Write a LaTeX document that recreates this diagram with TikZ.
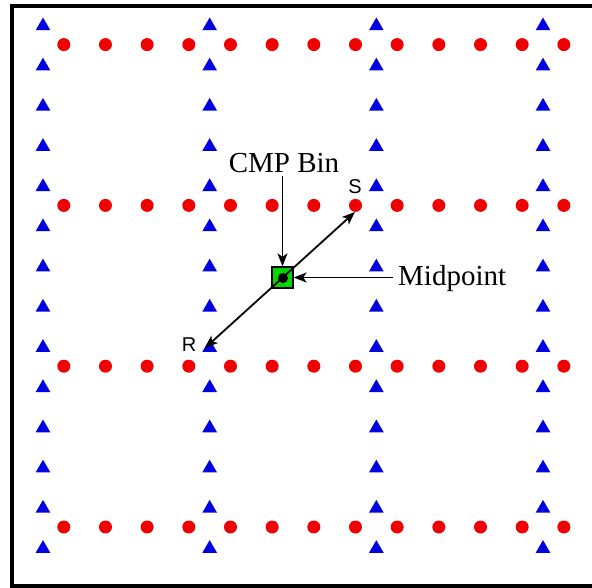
\documentclass[tikz,border=0pt]{standalone}
\usepackage{fontspec}
\setmainfont{Liberation Serif}
\newfontfamily\lsans{Liberation Sans}
\usetikzlibrary{shapes.geometric,arrows.meta}
\definecolor{srcblue}{RGB}{0,0,225}
\definecolor{recred}{RGB}{240,0,0}
\definecolor{bingreen}{RGB}{0,215,0}
\tikzset{
  srcmark/.style={regular polygon,regular polygon sides=3,minimum size=17pt,inner sep=0pt,fill=srcblue},
  recmark/.style={circle,minimum size=13pt,inner sep=0pt,fill=recred},
  binbox/.style={draw=black,line width=1.3pt,fill=bingreen,minimum size=21pt,inner sep=0pt},
  arr/.style={line width=1.8pt,-{Stealth[length=13pt,width=10pt,inset=3.5pt]}},
  darr/.style={line width=1.8pt,{Stealth[length=13pt,width=10pt,inset=3.5pt]}-{Stealth[length=13pt,width=10pt,inset=3.5pt]}},
  lbl/.style={font=\fontsize{29}{31}\selectfont,inner sep=0pt},
  sl/.style={font=\lsans\fontsize{20}{22}\selectfont,inner sep=0pt}
}
\begin{document}
\begin{tikzpicture}[x=1pt,y=-1pt]
\useasboundingbox (0,0) rectangle (592,588);
\fill[white] (0,0) rectangle (592,588);
\draw[line width=3.2pt] (620,6) -- (12,6) -- (12,586) -- (620,586);
% sources (triangles)
\foreach \c in {0,...,3}{
  \foreach \k in {0,...,13}{
    \node[srcmark] (s-\c-\k) at ({43+166.67*\c},{26+40.2*\k}) {};
  }
}
% receivers (dots)
\foreach \r in {0,...,3}{
  \foreach \k in {0,...,12}{
    \node[recmark] (d-\r-\k) at ({63.8+41.67*\k},{44.6+160.8*\r}) {};
  }
}
% CMP bin
\node[binbox] (bin) at (282.5,277.5) {};
\node[circle,fill=black,minimum size=10pt,inner sep=0pt] (mid) at (283,278) {};
\coordinate (rtip) at (205,348);
\coordinate (stip) at (355,212);
\draw[darr] (rtip) -- (stip);
\node[lbl] (cmp) at (284,163) {CMP Bin};
\node[lbl,anchor=west] (midl) at (398,279) {Midpoint};
\node[sl] (slab) at (355,187) {S};
\node[sl] (rlab) at (189,345) {R};
\coordinate (cmpfoot) at (cmp.south -| bin.north);
\coordinate (midfoot) at (bin.east -| midl.west);
\draw[arr] (cmpfoot) ++(0,3) -- (bin.north);
\draw[arr] (midfoot) ++(-5,0) -- (bin.east);
\end{tikzpicture}
\end{document}
